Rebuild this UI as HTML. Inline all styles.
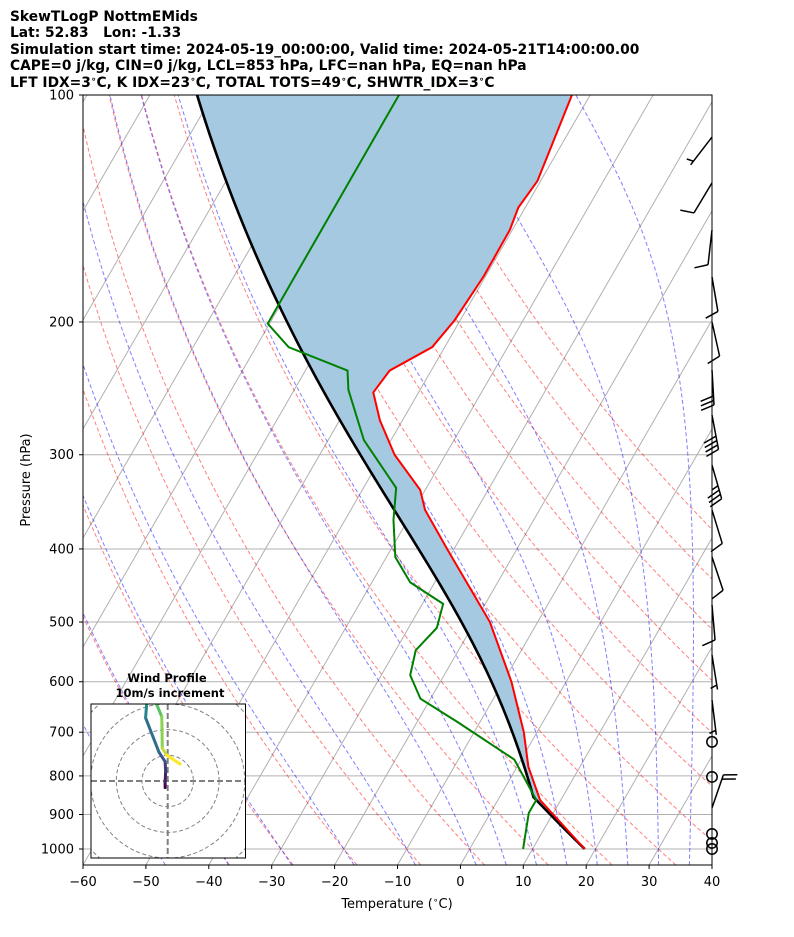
<!DOCTYPE html>
<html><head><meta charset="utf-8"><style>
body{margin:0;background:#fff}
svg{display:block;font-family:"DejaVu Sans","Liberation Sans",sans-serif}
</style></head><body>
<svg id="chart" width="794" height="937" viewBox="0 0 794 937" xmlns="http://www.w3.org/2000/svg">
<defs>
<clipPath id="plotclip"><rect x="83" y="95" width="629" height="770"/></clipPath>
<clipPath id="hodoclip"><rect x="91" y="704" width="154.5" height="154"/></clipPath>
</defs>
<g font-weight="bold" font-size="13.8" fill="#000" style="white-space:pre">
<text x="10" y="21">SkewTLogP NottmEMids</text>
<text x="10" y="37" xml:space="preserve">Lat: 52.83   Lon: -1.33</text>
<text x="10" y="54">Simulation start time: 2024-05-19_00:00:00, Valid time: 2024-05-21T14:00:00.00</text>
<text x="10" y="70">CAPE=0 j/kg, CIN=0 j/kg, LCL=853 hPa, LFC=nan hPa, EQ=nan hPa</text>
<text x="10" y="87">LFT IDX=3<tspan baseline-shift="super" font-size="9">∘</tspan>C, K IDX=23<tspan baseline-shift="super" font-size="9">∘</tspan>C, TOTAL TOTS=49<tspan baseline-shift="super" font-size="9">∘</tspan>C, SHWTR_IDX=3<tspan baseline-shift="super" font-size="9">∘</tspan>C</text>
</g>
<g id="grid" clip-path="url(#plotclip)"></g>
<g id="adiabats" clip-path="url(#plotclip)"></g>
<g id="profiles" clip-path="url(#plotclip)"></g>
<g id="barbs"></g>
<rect x="83" y="95" width="629" height="770" fill="none" stroke="#000" stroke-width="1"/>
<g id="axes" font-size="13" fill="#000"></g>
<text x="397" y="908" font-size="13" text-anchor="middle">Temperature (<tspan baseline-shift="super" font-size="9">∘</tspan>C)</text>
<text transform="translate(30,480) rotate(-90)" font-size="13" text-anchor="middle">Pressure (hPa)</text>
<g id="hodo"></g>
</svg>
<script>
// ---- data ----
const tempP = [1000, 861, 778, 700, 600, 500, 400, 355, 334, 300, 270, 248, 232, 216, 199, 174, 151, 141, 130, 100];
const tempT = [18.3, 6.7, 1.8, -2.1, -8.7, -17.6, -31.1, -38.2, -40.8, -48.1, -53.6, -57.2, -56.6, -52.0, -50.9, -50.3, -50.4, -51.1, -50.5, -52.9];
const dewP = [1000, 896, 861, 761, 679, 632, 588, 545, 509, 473, 443, 410, 366, 332, 287, 246, 232, 216, 201, 100];
const dewT = [8.5, 6.1, 6.1, -1.1, -13.5, -21.6, -25.4, -26.8, -25.5, -26.7, -33.9, -38.6, -42.3, -44.8, -54.3, -61.4, -63.3, -74.8, -80.3, -80.4];
const parcelSurfaceT = 18.3;
const lclP = 853;
const pressureTicks = [100, 200, 300, 400, 500, 600, 700, 800, 900, 1000];
const tempTicks = [-60, -50, -40, -30, -20, -10, 0, 10, 20, 30, 40];
const dryAdiabatT0 = [-40, -30, -20, -10, 0, 10, 20, 30, 40, 50, 60, 70, 80, 90, 100];
const moistAdiabatT0 = [-50, -40, -30, -20, -10, 0, 5, 10, 15, 20, 25, 30, 35];
const barbP = [113.7, 130.8, 151, 174.3, 200, 231.6, 265.7, 309.6, 355.1, 410, 474.8, 552.9, 634.5, 721, 802.5, 882.1, 955, 981.7, 1000];
const barbDir = [217.6, 211, 186.5, 170.3, 167.5, 176.7, 169.3, 164, 163, 161.6, 175, 171, 173, 0, 0, 19, 0, 0, 0];
const barbSpd = [5, 10, 10, 10, 10, 30, 40, 35, 10, 10, 10, 5, 5, 0, 0, 20, 0, 0, 0];
const hodoU = [-1.0, -1.0, -0.8, -1.0, -3.4, -8.6, -8.2, -9.0, -4.3, -2.3, -2.1, -0.4, 4.8];
const hodoV = [-2.6, -0.3, 3.6, 7.5, 11.2, 24.6, 29.8, 35.0, 29.8, 25.0, 12.7, 10.1, 6.6];

const NS = 'http://www.w3.org/2000/svg';
const yP = p => 95 + (Math.log10(p) - 2) * 754;
const xT = (T, p) => 83 + (T + 60) * 6.29 + (865 - yP(p)) * 0.577;
function mk(tag, attrs, parent) {
  const e = document.createElementNS(NS, tag);
  for (const k in attrs) e.setAttribute(k, attrs[k]);
  parent.appendChild(e); return e;
}
function pathFrom(Ts, Ps) {
  return Ts.map((t, i) => (i ? 'L' : 'M') + xT(t, Ps[i]).toFixed(2) + ',' + yP(Ps[i]).toFixed(2)).join('');
}
const Rd = 287.04, Cp = 1005.7, Lv = 2.501e6, eps = 0.622;
function rs(T, p) { const tc = T - 273.15; const es = 6.112 * Math.exp(17.67 * tc / (tc + 243.5)); return eps * es / (p - es); }
function dTdp(T, p) { const r = rs(T, p); return (Rd * T + Lv * r) / (p * (Cp + Lv * Lv * r * eps / (Rd * T * T))); }
function moist(T0C, p0, plist) {
  let T = T0C + 273.15, p = p0; const out = [];
  for (const pt of plist) {
    const n = Math.max(1, Math.ceil(Math.abs(pt - p) / 5)); const h = (pt - p) / n;
    for (let i = 0; i < n; i++) {
      const k1 = dTdp(T, p), k2 = dTdp(T + h * k1 / 2, p + h / 2), k3 = dTdp(T + h * k2 / 2, p + h / 2), k4 = dTdp(T + h * k3, p + h);
      T += h * (k1 + 2 * k2 + 2 * k3 + k4) / 6; p += h;
    }
    out.push(T - 273.15);
  }
  return out;
}
const plev = []; for (let p = 1050; p >= 100; p -= 10) plev.push(p);

const grid = document.getElementById('grid');
for (let t = -140; t <= 40; t += 10) {
  const l = mk('line', {x1: 83 + (t + 60) * 6.29, y1: 865, x2: 83 + (t + 60) * 6.29 + 770 * 0.577, y2: 95, stroke: '#b0b0b0', 'stroke-width': 1}, grid);
  
  
}
pressureTicks.forEach(p => {
  const l = mk('line', {x1: 83, x2: 712, y1: yP(p), y2: yP(p), stroke: '#b0b0b0', 'stroke-width': 1}, grid);
  
  
});
const ad = document.getElementById('adiabats');
dryAdiabatT0.forEach(t0 => {
  const Ts = plev.map(p => (t0 + 273.15) * Math.pow(p / 1000, 0.2857) - 273.15);
  const e = mk('path', {d: pathFrom(Ts, plev), fill: 'none', stroke: '#ff0000', 'stroke-opacity': 0.5, 'stroke-width': 1, 'stroke-dasharray': '4,2.5'}, ad);
  
  
});
const up = plev.filter(p => p <= 1000).sort((a, b) => b - a);
moistAdiabatT0.forEach(t0 => {
  const Tu = moist(t0, 1000, up);
  const Td = moist(t0, 1000, [1050]);
  const Ts = [Td[0]].concat(Tu), Ps = [1050].concat(up);
  const e = mk('path', {d: pathFrom(Ts, Ps), fill: 'none', stroke: '#0000ff', 'stroke-opacity': 0.5, 'stroke-width': 1, 'stroke-dasharray': '4,2.5'}, ad);
  
  
});
const pp = [], pt = [];
for (let p = 1000; p > lclP; p -= 5) { pp.push(p); pt.push((parcelSurfaceT + 273.15) * Math.pow(p / 1000, 0.2857) - 273.15); }
const tl = (parcelSurfaceT + 273.15) * Math.pow(lclP / 1000, 0.2857) - 273.15;
pp.push(lclP); pt.push(tl);
const mp = []; for (let p = lclP - 5; p >= 100; p -= 5) mp.push(p);
if (mp[mp.length - 1] !== 100) mp.push(100);
moist(tl, lclP, mp).forEach((t, i) => { pp.push(mp[i]); pt.push(t); });

const prof = document.getElementById('profiles');
let fd = pathFrom(tempT, tempP);
for (let i = pp.length - 1; i >= 0; i--) fd += 'L' + xT(pt[i], pp[i]).toFixed(2) + ',' + yP(pp[i]).toFixed(2);
const fill = mk('path', {d: fd + 'Z', fill: '#a5c9e1', stroke: 'none'}, prof);


const pl = mk('path', {d: pathFrom(pt, pp), fill: 'none', stroke: '#000', 'stroke-width': 2.6}, prof);


const tp = mk('path', {d: pathFrom(tempT, tempP), fill: 'none', stroke: '#ff0000', 'stroke-width': 2}, prof);


const dp = mk('path', {d: pathFrom(dewT, dewP), fill: 'none', stroke: '#008000', 'stroke-width': 2}, prof);



const ax = document.getElementById('axes');
pressureTicks.forEach(p => {
  mk('line', {x1: 79, x2: 83, y1: yP(p), y2: yP(p), stroke: '#000'}, ax);
  const t = mk('text', {x: 74, y: yP(p) + 4.5, 'text-anchor': 'end'}, ax);
  t.textContent = p;
  
  
});
tempTicks.forEach(v => {
  const x = 83 + (v + 60) * 6.29;
  mk('line', {x1: x, x2: x, y1: 865, y2: 869, stroke: '#000'}, ax);
  const t = mk('text', {x: x, y: 886, 'text-anchor': 'middle'}, ax);
  t.textContent = v < 0 ? '\u2212' + (-v) : v;
  
  
});

const bg = document.getElementById('barbs');
barbP.forEach((p, i) => {
  const y = yP(p), x = 712;
  const g = mk('g', {stroke: '#000', 'stroke-width': 1.5, fill: 'none'}, bg);
  
  
  const s = barbSpd[i];
  if (s === 0) { mk('circle', {cx: x, cy: y, r: 5.2}, g); return; }
  const a = barbDir[i] * Math.PI / 180;
  const dx = Math.sin(a), dy = -Math.cos(a);
  const L = 35, tx = x + dx * L, ty = y + dy * L;
  mk('line', {x1: x, y1: y, x2: tx, y2: ty}, g);
  const bx = -dy * 0.94 + dx * 0.33, by = dx * 0.94 + dy * 0.33;
  let full = Math.floor(s / 10), half = (s % 10) >= 5 ? 1 : 0, k = 0;
  for (let f = 0; f < full; f++, k++) {
    const sx = tx - dx * k * 4.5, sy = ty - dy * k * 4.5;
    mk('line', {x1: sx, y1: sy, x2: sx + bx * 14, y2: sy + by * 14}, g);
  }
  if (half) {
    if (k === 0) k = 1;
    const sx = tx - dx * k * 4.5, sy = ty - dy * k * 4.5;
    mk('line', {x1: sx, y1: sy, x2: sx + bx * 7, y2: sy + by * 7}, g);
  }
});

const hg = document.getElementById('hodo');
const hx = 167.7, hy = 781, sc = 2.57;
const t1 = mk('text', {x: 167, y: 682, 'text-anchor': 'middle', 'font-size': 11.5, 'font-weight': 'bold'}, hg);
t1.textContent = 'Wind Profile';


const t2 = mk('text', {x: 170, y: 697, 'text-anchor': 'middle', 'font-size': 11.5, 'font-weight': 'bold'}, hg);
t2.textContent = '10m/s increment';


mk('rect', {x: 91, y: 704, width: 154.5, height: 154, fill: '#fff'}, hg);
const inner = mk('g', {'clip-path': 'url(#hodoclip)'}, hg);
[10, 20, 30, 40].forEach(r => {
  const c = mk('circle', {cx: hx, cy: hy, r: r * sc, fill: 'none', stroke: '#808080', 'stroke-width': 1, 'stroke-dasharray': '4,2.5'}, inner);
  
  
});
mk('line', {x1: 91, x2: 246, y1: hy, y2: hy, stroke: '#808080', 'stroke-width': 2, 'stroke-dasharray': '6,3'}, inner);
mk('line', {x1: hx, x2: hx, y1: 704, y2: 858, stroke: '#808080', 'stroke-width': 2, 'stroke-dasharray': '6,3'}, inner);
const vir = [[68,1,84],[59,82,139],[33,145,140],[94,201,98],[253,231,37]];
function vc(f) { const s = f * 4, i = Math.min(3, Math.floor(s)), r = s - i; const a = vir[i], b = vir[i + 1];
  return 'rgb(' + a.map((v, j) => Math.round(v + (b[j] - v) * r)).join(',') + ')'; }
for (let i = 0; i < hodoU.length - 1; i++) {
  const l = mk('line', {x1: hx + hodoU[i] * sc, y1: hy - hodoV[i] * sc, x2: hx + hodoU[i + 1] * sc, y2: hy - hodoV[i + 1] * sc,
    stroke: vc(i / (hodoU.length - 2)), 'stroke-width': 3, 'stroke-linecap': 'round'}, inner);
  
  
}
mk('rect', {x: 91, y: 704, width: 154.5, height: 154, fill: 'none', stroke: '#000', 'stroke-width': 1}, hg);
</script>
</body></html>
